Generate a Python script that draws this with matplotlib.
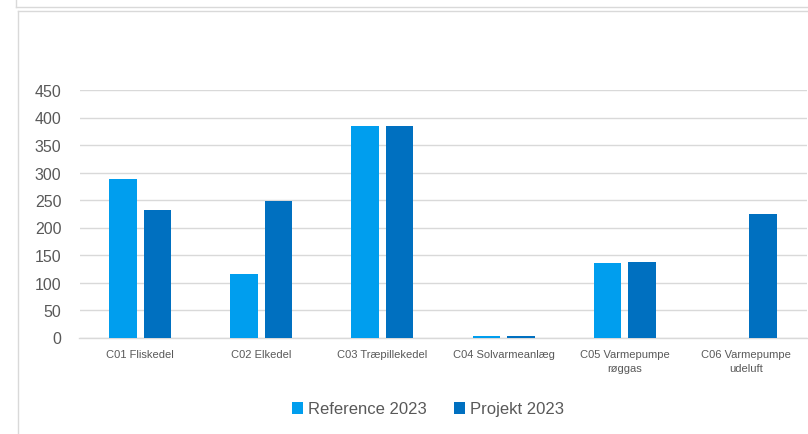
import matplotlib.pyplot as plt
import numpy as np
from matplotlib.lines import Line2D

plt.rcParams['font.family'] = ['Liberation Sans', 'DejaVu Sans']

# Data
categories = ["C01 Fliskedel", "C02 Elkedel", "C03 Træpillekedel", "C04 Solvarmeanlæg",
              "C05 Varmepumpe\nrøggas", "C06 Varmepumpe\nudeluft"]
reference_2023 = [288, 116, 384, 2, 135, 0]
projekt_2023 = [232, 248, 384, 2, 137, 225]
series_names = ["Reference 2023", "Projekt 2023"]
y_ticks = [0, 50, 100, 150, 200, 250, 300, 350, 400, 450]

col_ref = "#009EEE"
col_proj = "#0070C0"
grid_col = "#D9D9D9"
text_col = "#595959"

W, H = 808, 435
fig = plt.figure(figsize=(W / 100, H / 100), dpi=100)

# outer frame lines (pixel coords, y from top)
def px_line(x0, y0, x1, y1):
    fig.add_artist(Line2D([x0 / W, x1 / W], [1 - y0 / H, 1 - y1 / H],
                          transform=fig.transFigure, color=grid_col, lw=1.0))

px_line(15.5, 0, 15.5, 8)
px_line(15.5, 8, 808, 8)
px_line(17.5, 11.5, 17.5, 435)
px_line(17.5, 11.5, 808, 11.5)

left, right, top, bottom = 79.5, 806.5, 91, 338.5
ax = fig.add_axes([left / W, 1 - bottom / H, (right - left) / W, (bottom - top) / H])

x = np.arange(len(categories))
w = 0.227
off = 0.143
ax.bar(x - off, reference_2023, w, color=col_ref, label=series_names[0], zorder=3)
ax.bar(x + off, projekt_2023, w, color=col_proj, label=series_names[1], zorder=3)

ax.set_xlim(-0.5, len(categories) - 0.5)
ax.set_ylim(0, 450)
ax.set_yticks(y_ticks)
ax.set_yticklabels([str(t) for t in y_ticks])
ax.yaxis.grid(True, color=grid_col, lw=1.0, zorder=0)
ax.set_axisbelow(True)
for s in ["top", "right", "left"]:
    ax.spines[s].set_visible(False)
ax.spines["bottom"].set_color(grid_col)
ax.spines["bottom"].set_linewidth(1.0)
ax.tick_params(axis="y", length=0, pad=13, labelsize=11.5, labelcolor=text_col)
ax.set_xticks(x)
ax.set_xticklabels(categories, fontsize=8, color=text_col, linespacing=1.5)
ax.tick_params(axis="x", length=0, pad=8)

fig.legend(loc="center", bbox_to_anchor=(428 / W, 1 - 410 / H), ncol=2, frameon=False,
           fontsize=12, labelcolor=text_col, handlelength=0.7, handleheight=0.7,
           handletextpad=0.3, columnspacing=1.6)

plt.savefig("out.png", dpi=100)
